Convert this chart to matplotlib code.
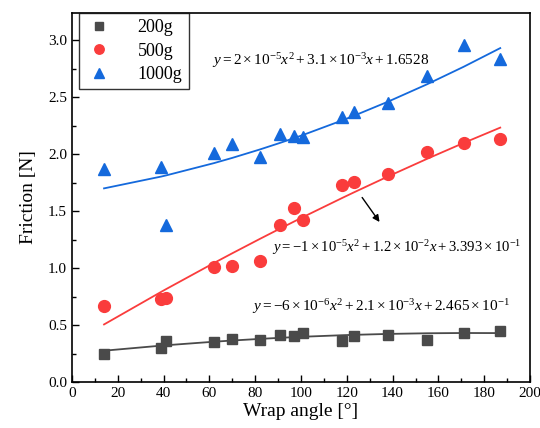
import numpy as np
import matplotlib
matplotlib.use("Agg")
import matplotlib.pyplot as plt
from matplotlib.ticker import MultipleLocator

plt.rcParams['font.family'] = ['Liberation Serif', 'DejaVu Serif']
plt.rcParams['mathtext.fontset'] = 'custom'
plt.rcParams['mathtext.rm'] = 'Liberation Serif'
plt.rcParams['mathtext.it'] = 'Liberation Serif:italic'

# Data
wrap_angle = [14, 39, 41, 62, 70, 82, 91, 97, 101, 118, 123, 138, 155, 171, 187]
f_200 = [0.25, 0.30, 0.36, 0.35, 0.38, 0.37, 0.41, 0.40, 0.43, 0.36, 0.40, 0.41, 0.37, 0.43, 0.45]
f_500 = [0.67, 0.73, 0.74, 1.01, 1.02, 1.06, 1.38, 1.53, 1.42, 1.73, 1.76, 1.83, 2.02, 2.10, 2.13]
f_1000 = [1.87, 1.89, 1.38, 2.01, 2.09, 1.98, 2.18, 2.16, 2.15, 2.33, 2.37, 2.45, 2.69, 2.96, 2.84]

# Fit coefficients shown on the chart (a2, a1, a0)
coef_200 = [-6e-6, 2.1e-3, 0.2465]
coef_500 = [-1e-5, 1.2e-2, 0.3393]
coef_1000 = [2e-5, 3.1e-3, 1.6528]

labels = ['200g', '500g', '1000g']
eq_200 = r'$y=-6\times10^{-6}x^{2}+2.1\times10^{-3}x+2.465\times10^{-1}$'
eq_500 = r'$y=-1\times10^{-5}x^{2}+1.2\times10^{-2}x+3.393\times10^{-1}$'
eq_1000 = r'$y=2\times10^{-5}x^{2}+3.1\times10^{-3}x+1.6528$'

c_black = '#4a4a4a'
c_red = '#fa3c3c'
c_blue = '#1469dc'

fig = plt.figure(figsize=(5.4, 4.28), dpi=100)
ax = fig.add_axes([0.1333, 0.1075, 0.8482, 0.8621])

x = np.array(wrap_angle)
ax.plot(x, np.polyval(coef_200, x), color=c_black, lw=1.3, zorder=2)
ax.plot(x, np.polyval(coef_500, x), color=c_red, lw=1.3, zorder=2)
ax.plot(x, np.polyval(coef_1000, x), color=c_blue, lw=1.3, zorder=2)

ax.plot(x, f_200, ls='none', marker='s', ms=7.5, color=c_black, label=labels[0], zorder=3)
ax.plot(x, f_500, ls='none', marker='o', ms=8.5, color=c_red, label=labels[1], zorder=3)
ax.plot(x, f_1000, ls='none', marker='^', ms=9, color=c_blue, label=labels[2], zorder=3)

ax.set_xlim(0, 200)
ax.set_ylim(0, 3.24)
ax.xaxis.set_major_locator(MultipleLocator(20))
ax.xaxis.set_minor_locator(MultipleLocator(10))
ax.yaxis.set_major_locator(MultipleLocator(0.5))
ax.yaxis.set_minor_locator(MultipleLocator(0.25))
ax.yaxis.set_major_formatter(matplotlib.ticker.FormatStrFormatter('%.1f'))
ax.tick_params(which='both', direction='in', top=False, right=False, labelsize=11)
ax.tick_params(which='major', length=5, width=1)
ax.tick_params(which='minor', length=3, width=1)
for s in ax.spines.values():
    s.set_linewidth(1.2)

ax.set_xlabel('Wrap angle [°]', fontsize=14, labelpad=2)
ax.set_ylabel('Friction [N]', fontsize=14, labelpad=8)

ax.text(61, 2.82, eq_1000, fontsize=11, va='center', ha='left')
ax.text(87.5, 1.18, eq_500, fontsize=10.6, va='center', ha='left')
ax.text(78.5, 0.66, eq_200, fontsize=11, va='center', ha='left')

ax.annotate('', xy=(135, 1.385), xytext=(126, 1.64),
            arrowprops=dict(arrowstyle='-|>', color='black', lw=1, mutation_scale=10))

leg = ax.legend(loc='upper left', bbox_to_anchor=(0.015, 1.0), borderaxespad=0,
                fontsize=13, frameon=True, fancybox=False, edgecolor='black',
                handletextpad=1.4, labelspacing=0.35, borderpad=0.35,
                handlelength=1.5, markerscale=0.8)
leg.get_frame().set_linewidth(1.0)

fig.savefig('out.png', dpi=100)
